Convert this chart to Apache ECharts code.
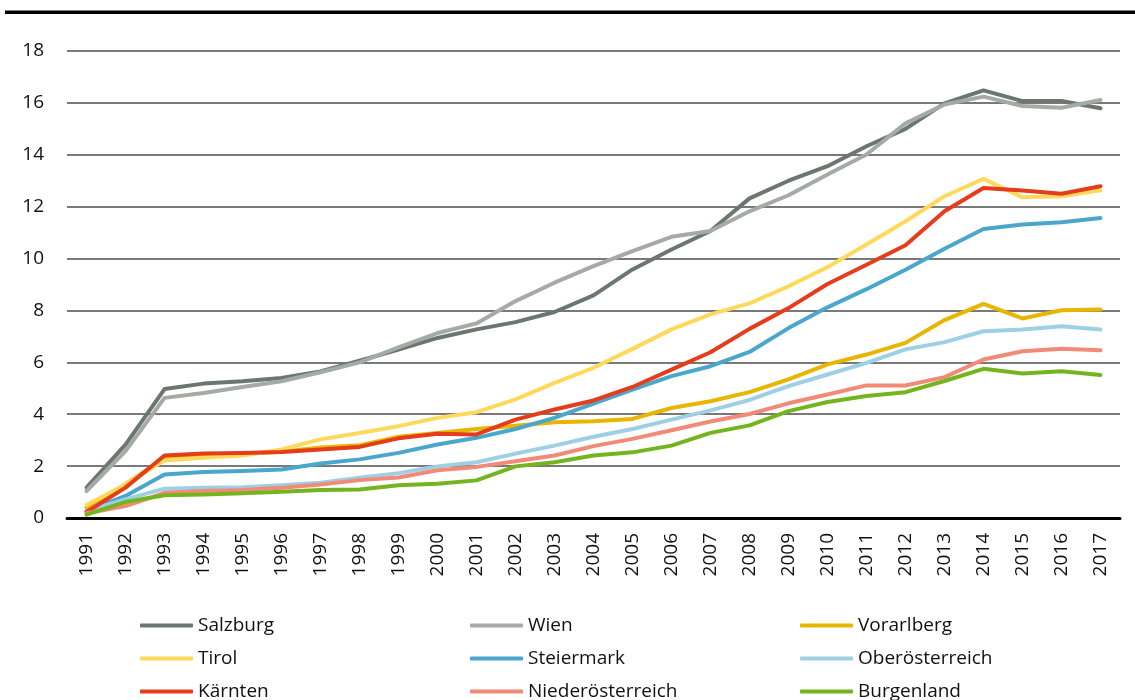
<!DOCTYPE html>
<html>
<head>
<meta charset="utf-8">
<script src="https://cdn.jsdelivr.net/npm/echarts@6/dist/echarts.min.js"></script>
<style>
  html, body { margin: 0; padding: 0; background: #ffffff; }
  #chart { width: 1135px; height: 700px; }
</style>
</head>
<body>
<div id="chart"></div>
<script>
// Jahre
const years = ['1991','1992','1993','1994','1995','1996','1997','1998','1999','2000',
  '2001','2002','2003','2004','2005','2006','2007','2008','2009','2010',
  '2011','2012','2013','2014','2015','2016','2017'];

// Werte je Bundesland
const salzburg = [1.17, 2.83, 4.97, 5.18, 5.27, 5.40, 5.65, 6.06, 6.49, 6.94, 7.27, 7.55, 7.94, 8.58, 9.58, 10.35, 11.06, 12.32, 13.00, 13.56, 14.33, 15.00, 15.98, 16.48, 16.07, 16.07, 15.79];
const wien = [1.04, 2.58, 4.63, 4.82, 5.05, 5.27, 5.62, 6.00, 6.58, 7.13, 7.50, 8.36, 9.07, 9.71, 10.29, 10.84, 11.06, 11.82, 12.44, 13.24, 14.01, 15.21, 15.94, 16.24, 15.88, 15.81, 16.11];
const vorarlberg = [0.40, 1.30, 2.30, 2.42, 2.47, 2.55, 2.72, 2.80, 3.13, 3.28, 3.43, 3.56, 3.69, 3.73, 3.82, 4.24, 4.50, 4.85, 5.34, 5.92, 6.30, 6.75, 7.63, 8.25, 7.69, 8.01, 8.04];
const tirol = [0.50, 1.29, 2.22, 2.32, 2.41, 2.64, 3.03, 3.28, 3.54, 3.86, 4.08, 4.57, 5.21, 5.79, 6.52, 7.27, 7.85, 8.27, 8.93, 9.67, 10.54, 11.44, 12.40, 13.07, 12.36, 12.40, 12.63];
const steiermark = [0.27, 0.85, 1.68, 1.77, 1.81, 1.87, 2.10, 2.26, 2.51, 2.83, 3.09, 3.43, 3.86, 4.41, 4.95, 5.47, 5.85, 6.40, 7.32, 8.12, 8.82, 9.57, 10.38, 11.14, 11.31, 11.40, 11.56];
const oberoesterreich = [0.27, 0.72, 1.13, 1.17, 1.19, 1.26, 1.36, 1.55, 1.73, 1.99, 2.15, 2.48, 2.79, 3.13, 3.43, 3.79, 4.15, 4.55, 5.08, 5.53, 5.98, 6.50, 6.78, 7.20, 7.27, 7.39, 7.27];
const kaernten = [0.23, 1.17, 2.41, 2.49, 2.51, 2.54, 2.64, 2.74, 3.07, 3.25, 3.22, 3.79, 4.18, 4.53, 5.05, 5.72, 6.39, 7.29, 8.09, 9.02, 9.76, 10.51, 11.82, 12.72, 12.62, 12.50, 12.79];
const niederoesterreich = [0.18, 0.46, 0.97, 1.04, 1.08, 1.17, 1.29, 1.46, 1.56, 1.84, 1.97, 2.19, 2.41, 2.77, 3.05, 3.38, 3.72, 4.01, 4.42, 4.76, 5.11, 5.11, 5.43, 6.11, 6.43, 6.52, 6.47];
const burgenland = [0.13, 0.62, 0.88, 0.91, 0.95, 1.01, 1.08, 1.10, 1.26, 1.32, 1.45, 1.99, 2.15, 2.41, 2.53, 2.79, 3.28, 3.57, 4.12, 4.47, 4.70, 4.85, 5.28, 5.75, 5.57, 5.66, 5.51];

// y-Achse
const yMin = 0, yMax = 18, yStep = 2;

const seriesDefs = [
  { name: 'Salzburg', data: salzburg, color: '#6b7670' },
  { name: 'Wien', data: wien, color: '#a4aba6' },
  { name: 'Vorarlberg', data: vorarlberg, color: '#e8b500' },
  { name: 'Tirol', data: tirol, color: '#ffd95c' },
  { name: 'Steiermark', data: steiermark, color: '#4ba6cc' },
  { name: 'Oberösterreich', data: oberoesterreich, color: '#9dcfe5' },
  { name: 'Kärnten', data: kaernten, color: '#e53c1b' },
  { name: 'Niederösterreich', data: niederoesterreich, color: '#f28a78' },
  { name: 'Burgenland', data: burgenland, color: '#74b51f' }
];

const font = '"Open Sans", "Noto Sans", sans-serif';

// three stacked legend columns, one per block of three regions
function legendColumn(left, names) {
  return {
    orient: 'vertical',
    left: left,
    top: 616,
    width: 300,
    height: 120,
    itemWidth: 53,
    itemHeight: 4,
    itemGap: 14,
    icon: 'roundRect',
    padding: 0,
    data: names,
    textStyle: { fontFamily: font, fontSize: 19, color: '#111', lineHeight: 19 }
  };
}

const chart = echarts.init(document.getElementById('chart'), null, { renderer: 'canvas' });

chart.setOption({
  animation: false,
  backgroundColor: '#ffffff',
  color: seriesDefs.map(s => s.color),
  graphic: [{
    type: 'rect',
    shape: { x: 5, y: 10.5, width: 1130, height: 3.5 },
    style: { fill: '#000000' }
  }],
  grid: { left: 67, right: 15, top: 51, bottom: 182, containLabel: false },
  legend: [
    legendColumn(140, ['Salzburg', 'Tirol', 'Kärnten']),
    legendColumn(470, ['Wien', 'Steiermark', 'Niederösterreich']),
    legendColumn(800, ['Vorarlberg', 'Oberösterreich', 'Burgenland'])
  ],
  xAxis: {
    type: 'category',
    data: years,
    boundaryGap: true,
    axisLine: { show: true, lineStyle: { color: '#000', width: 3 } },
    axisTick: { show: false },
    axisLabel: {
      rotate: 90,
      margin: 15,
      fontFamily: font,
      fontSize: 19,
      color: '#111'
    },
    splitLine: { show: false }
  },
  yAxis: {
    type: 'value',
    min: yMin,
    max: yMax,
    interval: yStep,
    axisLine: { show: false },
    axisTick: { show: false },
    axisLabel: { margin: 23, fontFamily: font, fontSize: 19, color: '#111' },
    splitLine: { show: true, lineStyle: { color: '#4d4d4d', width: 1.5 } }
  },
  series: seriesDefs.map(s => ({
    name: s.name,
    type: 'line',
    data: s.data,
    showSymbol: false,
    symbol: 'none',
    lineStyle: { width: 4, color: s.color, cap: 'round', join: 'round' },
    itemStyle: { color: s.color },
    emphasis: { disabled: true }
  }))
});
</script>
</body>
</html>
